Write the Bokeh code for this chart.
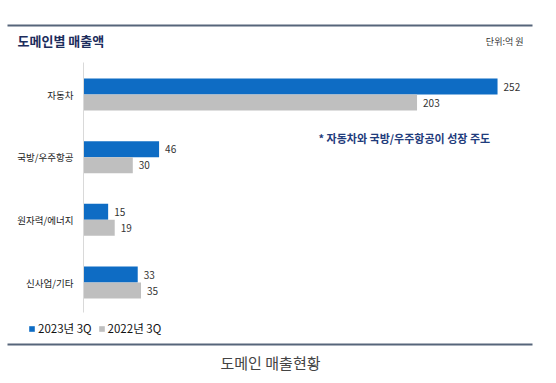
from bokeh.plotting import figure
from bokeh.models import Range1d, ColumnDataSource, Legend, LegendItem
from bokeh.core.properties import value
from bokeh.transform import dodge
from bokeh.embed import file_html
from bokeh.resources import INLINE

# ---- data ----
categories = ["자동차", "국방/우주항공", "원자력/에너지", "신사업/기타"]
sales_2023 = [252, 46, 15, 33]
sales_2022 = [203, 30, 19, 35]
series_names = ["2023년 3Q", "2022년 3Q"]
title_text = "도메인별 매출액"
unit_text = "단위:억 원"
note_text = "* 자동차와 국방/우주항공이 성장 주도"
caption_text = "도메인 매출현황"

# ---- layout (canvas pixels -> data units) ----
W, H = 540, 375
X0 = 83            # canvas x of value 0
PX_PER_UNIT = 1.643
Y0 = 94            # canvas y of first category centre
ROW = 62.67        # px between categories
BAR = 16           # bar thickness px

def px(cx):
    return (cx - X0) / PX_PER_UNIT

def py(cy):
    return -(cy - Y0) / ROW

FONT = "Noto Sans CJK KR"
BLUE = "#0E6CC4"
GREY = "#BFBFBF"
NAVY = "#1C2D5C"

p = figure(width=W, height=H, output_backend="svg", toolbar_location=None,
           x_axis_location=None, y_axis_location=None,
           x_range=Range1d(px(0), px(W)), y_range=Range1d(py(H), py(0)),
           min_border=0, min_border_left=0, min_border_right=0,
           min_border_top=0, min_border_bottom=0)
p.outline_line_color = None
p.xgrid.visible = False
p.ygrid.visible = False
p.background_fill_color = "white"
p.border_fill_color = "white"

ypos = [-i for i in range(len(categories))]
src = ColumnDataSource(dict(cat=categories, y=ypos, a=sales_2023, b=sales_2022,
                            a_txt=[str(v) for v in sales_2023],
                            b_txt=[str(v) for v in sales_2022]))

off = (BAR / 2) / ROW
h = BAR / ROW
r_a = p.hbar(y=dodge("y", off), left=0, right="a", height=h, source=src,
             fill_color=BLUE, line_color=None)
r_b = p.hbar(y=dodge("y", -off), left=0, right="b", height=h, source=src,
             fill_color=GREY, line_color=None)

# value labels
p.text(x="a", y=dodge("y", off), text="a_txt", source=src, x_offset=6,
       text_align="left", text_baseline="middle", text_font=value(FONT),
       text_font_size="10px", text_color="#333333")
p.text(x="b", y=dodge("y", -off), text="b_txt", source=src, x_offset=6,
       text_align="left", text_baseline="middle", text_font=value(FONT),
       text_font_size="10px", text_color="#333333")

# category labels
p.text(x=px(73), y="y", text="cat", source=src, text_align="right",
       text_baseline="middle", text_font=value(FONT), text_font_size="9.5px",
       text_color="#222222")

# axis line
p.segment(x0=0, y0=py(62), x1=0, y1=py(312), line_color="#D9D9D9", line_width=1)

# top & bottom rules
for cy in (25, 344):
    p.segment(x0=px(7), y0=py(cy), x1=px(532), y1=py(cy),
              line_color="#56657A", line_width=2)

# title, unit, note, caption
p.text(x=[px(17)], y=[py(40)], text=[title_text], text_align="left",
       text_baseline="middle", text_font=value(FONT), text_font_size="13px",
       text_font_style="bold", text_color=NAVY)
p.text(x=[px(523)], y=[py(41)], text=[unit_text], text_align="right",
       text_baseline="middle", text_font=value(FONT), text_font_size="9px",
       text_color="#333333")
p.text(x=[px(318)], y=[py(137)], text=[note_text], text_align="left",
       text_baseline="middle", text_font=value(FONT), text_font_size="11px",
       text_font_style="bold", text_color="#1F3C7C")
p.text(x=[px(270)], y=[py(362)], text=[caption_text], text_align="center",
       text_baseline="middle", text_font=value(FONT), text_font_size="15px",
       text_color="#444444")

legend = Legend(items=[LegendItem(label=series_names[0], renderers=[r_a]),
                       LegendItem(label=series_names[1], renderers=[r_b])],
                orientation="horizontal", location=(28, 39),
                glyph_width=7, glyph_height=7, label_height=12,
                label_standoff=3, spacing=6, padding=0, margin=0,
                label_text_font=FONT, label_text_font_size="11.5px",
                label_text_color="#111111", border_line_color=None,
                background_fill_alpha=0)
p.add_layout(legend)

open("out.html", "w").write(file_html(p, INLINE))
